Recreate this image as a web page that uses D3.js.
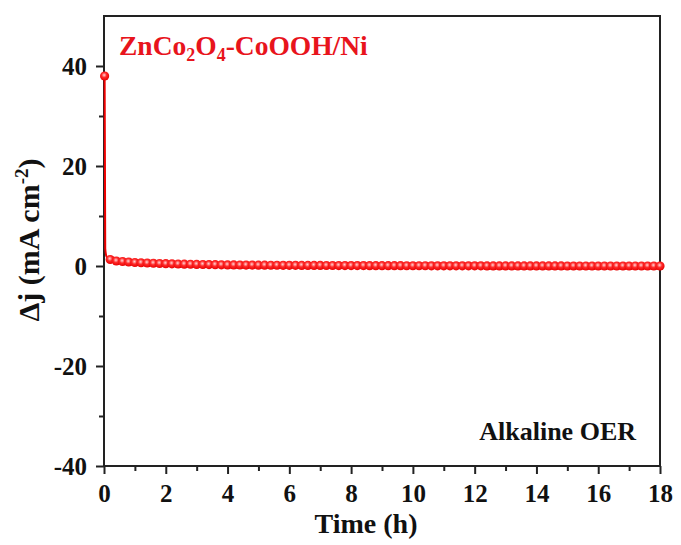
<!DOCTYPE html>
<html>
<head>
<meta charset="utf-8">
<script src="https://cdn.jsdelivr.net/npm/d3@7"></script>
<style>
body { margin: 0; background: #fff; }
text { font-family: "Liberation Serif", "Times New Roman", serif; font-weight: bold; }
</style>
</head>
<body>
<svg id="chart"></svg>
<script>
// initial drop, recorded densely (only the first point is marked)
var dropTimes = [0.02, 0.04, 0.08, 0.13];
var dropValues = [38.0, 3.5, 1.9, 1.5];
var dropMarked = [true, false, false, false];

// marked series, time in hours, step 0.2 h
var times = [0.2, 0.4, 0.6, 0.8, 1.0, 1.2, 1.4, 1.6, 1.8, 2.0, 2.2, 2.4, 2.6, 2.8, 3.0, 3.2, 3.4, 3.6, 3.8,
  4.0, 4.2, 4.4, 4.6, 4.8, 5.0, 5.2, 5.4, 5.6, 5.8, 6.0, 6.2, 6.4, 6.6, 6.8, 7.0, 7.2, 7.4, 7.6, 7.8,
  8.0, 8.2, 8.4, 8.6, 8.8, 9.0, 9.2, 9.4, 9.6, 9.8, 10.0, 10.2, 10.4, 10.6, 10.8, 11.0, 11.2, 11.4, 11.6, 11.8,
  12.0, 12.2, 12.4, 12.6, 12.8, 13.0, 13.2, 13.4, 13.6, 13.8, 14.0, 14.2, 14.4, 14.6, 14.8, 15.0, 15.2, 15.4, 15.6, 15.8,
  16.0, 16.2, 16.4, 16.6, 16.8, 17.0, 17.2, 17.4, 17.6, 17.8, 18.0];
var deltaJ = [1.3, 1.0, 0.9, 0.8, 0.7, 0.65, 0.6, 0.55, 0.5, 0.46, 0.43, 0.4, 0.37, 0.35, 0.32, 0.3, 0.28, 0.26, 0.24,
  0.22, 0.21, 0.2, 0.19, 0.18, 0.17, 0.16, 0.15, 0.15, 0.14, 0.13, 0.13, 0.12, 0.12, 0.11, 0.11, 0.1, 0.1, 0.09, 0.09,
  0.08, 0.08, 0.08, 0.07, 0.07, 0.07, 0.06, 0.06, 0.06, 0.05, 0.05, 0.05, 0.05, 0.04, 0.04, 0.04, 0.04, 0.03, 0.03, 0.03,
  0.03, 0.03, 0.02, 0.02, 0.02, 0.02, 0.02, 0.02, 0.01, 0.01, 0.01, 0.01, 0.01, 0.01, 0.01, 0.0, 0.0, 0.0, 0.0, 0.0,
  0.0, 0.0, 0.0, 0.0, 0.0, 0.0, 0.0, 0.0, 0.0, 0.0, 0.0];
var xTicks = [0, 2, 4, 6, 8, 10, 12, 14, 16, 18];
var xMinor = [1, 3, 5, 7, 9, 11, 13, 15, 17];
var yTicks = [-40, -20, 0, 20, 40];
var yMinor = [-30, -10, 10, 30];

var svgWidth = 681, svgHeight = 545;
var margin = {left: 104, right: 21, top: 16, bottom: 79};

var svg = d3.select('#chart')
    .attr("width", svgWidth)
    .attr("height", svgHeight);

var xScale = d3.scaleLinear()
    .domain([0, 18])
    .range([margin.left, svgWidth - margin.right]);

var yScale = d3.scaleLinear()
    .domain([-40, 50])
    .range([svgHeight - margin.bottom, margin.top]);

var defs = svg.append("defs");
var grad = defs.append("radialGradient")
    .attr("id", "ball")
    .attr("cx", "45%").attr("cy", "40%").attr("r", "60%");
grad.append("stop").attr("offset", "0%").attr("stop-color", "#ffd6d6");
grad.append("stop").attr("offset", "45%").attr("stop-color", "#ff2a2a");
grad.append("stop").attr("offset", "100%").attr("stop-color", "#e60000");

var axisColor = "#222";
var fmt = function(d) { return String(d); };

var xAxis = d3.axisBottom(xScale).tickValues(xTicks).tickSize(8).tickPadding(10).tickFormat(fmt);
var xAxisMinor = d3.axisBottom(xScale).tickValues(xMinor).tickSize(5).tickFormat("");
var yAxis = d3.axisLeft(yScale).tickValues(yTicks).tickSize(8).tickPadding(9).tickFormat(fmt);
var yAxisMinor = d3.axisLeft(yScale).tickValues(yMinor).tickSize(5).tickFormat("");

svg.append("g").attr("transform", "translate(0," + yScale(-40) + ")").call(xAxis);
svg.append("g").attr("transform", "translate(0," + yScale(-40) + ")").call(xAxisMinor);
svg.append("g").attr("transform", "translate(" + xScale(0) + ",0)").call(yAxis);
svg.append("g").attr("transform", "translate(" + xScale(0) + ",0)").call(yAxisMinor);

svg.selectAll(".domain").remove();
svg.selectAll(".tick line").attr("stroke", axisColor).attr("stroke-width", 2);
svg.selectAll(".tick text")
    .attr("fill", "#111")
    .style("font-size", "25px")
    .style("font-family", "'Liberation Serif', serif")
    .style("font-weight", "bold");

// frame
svg.append("rect")
    .attr("x", xScale(0))
    .attr("y", yScale(50))
    .attr("width", xScale(18) - xScale(0))
    .attr("height", yScale(-40) - yScale(50))
    .attr("fill", "none")
    .attr("stroke", axisColor)
    .attr("stroke-width", 2);

// data
var points = dropTimes.map(function(t, i) { return {t: t, v: dropValues[i], m: dropMarked[i]}; })
    .concat(times.map(function(t, i) { return {t: t, v: deltaJ[i], m: true}; }));

var line = d3.line()
    .curve(d3.curveMonotoneX)
    .x(function(d) { return xScale(d.t); })
    .y(function(d) { return yScale(d.v); });

svg.append("path")
    .datum(points)
    .attr("d", line)
    .attr("fill", "none")
    .attr("stroke", "#ee0000")
    .attr("stroke-width", 2);

svg.selectAll("circle.pt")
    .data(points.filter(function(d) { return d.m; }))
    .enter()
    .append("circle")
    .attr("class", "pt")
    .attr("cx", function(d) { return xScale(d.t); })
    .attr("cy", function(d) { return yScale(d.v); })
    .attr("r", 4.6)
    .attr("fill", "url(#ball)");

// labels
var legend = svg.append("text")
    .attr("x", 119)
    .attr("y", 55)
    .attr("fill", "#e8141c")
    .style("font-size", "27.5px");
legend.append("tspan").text("ZnCo");
legend.append("tspan").attr("dy", 6).style("font-size", "18px").text("2");
legend.append("tspan").attr("dy", -6).text("O");
legend.append("tspan").attr("dy", 6).style("font-size", "18px").text("4");
legend.append("tspan").attr("dy", -6).text("-CoOOH/Ni");

svg.append("text")
    .attr("x", 636)
    .attr("y", 440)
    .attr("text-anchor", "end")
    .attr("fill", "#111")
    .style("font-size", "26px")
    .text("Alkaline OER");

svg.append("text")
    .attr("x", 366)
    .attr("y", 533)
    .attr("text-anchor", "middle")
    .attr("fill", "#111")
    .style("font-size", "28px")
    .text("Time (h)");

var ylab = svg.append("text")
    .attr("transform", "translate(39," + yScale(5.2) + ") rotate(-90)")
    .attr("text-anchor", "middle")
    .attr("fill", "#111")
    .style("font-size", "30px");
ylab.append("tspan").text("\u0394j (mA cm");
ylab.append("tspan").attr("dy", -11).style("font-size", "19px").text("-2");
ylab.append("tspan").attr("dy", 11).text(")");
</script>
</body>
</html>
